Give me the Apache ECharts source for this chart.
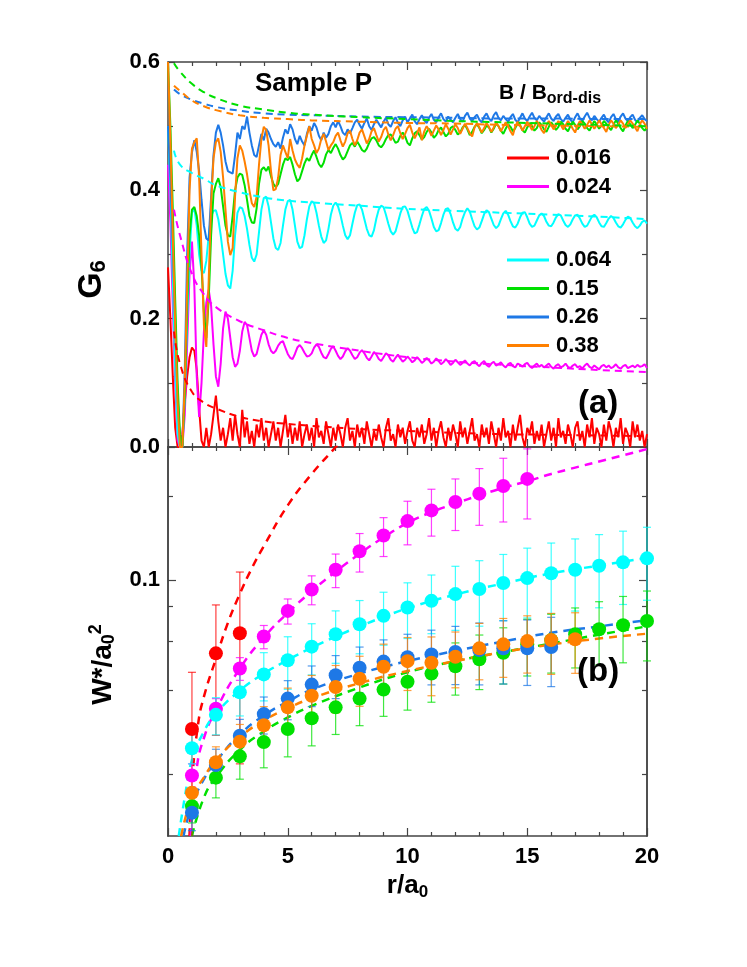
<!DOCTYPE html>
<html><head><meta charset="utf-8">
<script src="https://cdn.jsdelivr.net/npm/echarts@6/dist/echarts.min.js"></script>
<style>html,body{margin:0;padding:0;background:#fff}#c{width:747px;height:967px}</style>
</head><body><div id="c"></div><script>
const FONT = '"Liberation Sans", Arial, Helvetica, sans-serif';

// ---------- panel (a): G6(r) sampled every 0.1 a0 from r = 0 to 20 ----------
const R_STEP = 0.1;
const g6Red = [
0.280,0.200,0.110,0.030,0.000,0.000,0.020,0.070,0.110,0.140,
0.155,0.150,0.120,0.060,0.010,0.000,0.030,0.000,0.020,0.050,
0.080,0.040,0.010,0.030,0.000,0.020,0.045,0.010,0.050,0.020,
0.000,0.058,0.015,0.040,0.005,0.025,0.000,0.035,0.015,0.045,
0.010,0.030,0.000,0.020,0.040,0.010,0.030,0.000,0.025,0.050,
0.015,0.035,0.005,0.030,0.010,0.040,0.000,0.020,0.035,0.010,
0.030,0.000,0.045,0.015,0.025,0.005,0.040,0.020,0.000,0.030,
0.010,0.035,0.020,0.000,0.030,0.045,0.010,0.025,0.000,0.035,
0.015,0.030,0.005,0.040,0.020,0.000,0.025,0.010,0.035,0.015,
0.000,0.030,0.045,0.010,0.020,0.000,0.035,0.015,0.030,0.005,
0.025,0.040,0.010,0.000,0.030,0.015,0.035,0.005,0.020,0.045,
0.010,0.030,0.000,0.025,0.040,0.015,0.000,0.030,0.010,0.035,
0.020,0.000,0.040,0.015,0.030,0.005,0.025,0.045,0.010,0.020,
0.000,0.035,0.015,0.030,0.005,0.040,0.020,0.000,0.030,0.010,
0.045,0.015,0.025,0.000,0.035,0.010,0.030,0.050,0.015,0.000,
0.030,0.020,0.040,0.005,0.025,0.010,0.035,0.000,0.020,0.040,
0.010,0.030,0.000,0.045,0.015,0.025,0.005,0.035,0.020,0.000,
0.030,0.040,0.010,0.025,0.000,0.035,0.015,0.045,0.005,0.030,
0.020,0.000,0.035,0.010,0.040,0.025,0.000,0.030,0.015,0.045,
0.005,0.030,0.020,0.000,0.040,0.015,0.035,0.010,0.025,0.000,
0.020];
const g6Magenta = [
0.440,0.350,0.220,0.100,0.010,0.000,0.000,0.050,0.160,0.270,
0.320,0.250,0.110,0.047,0.100,0.180,0.225,0.245,0.220,0.160,
0.110,0.094,0.130,0.185,0.211,0.200,0.170,0.140,0.125,0.130,
0.150,0.180,0.195,0.190,0.170,0.150,0.141,0.145,0.160,0.175,
0.182,0.175,0.160,0.150,0.146,0.150,0.158,0.163,0.165,0.155,
0.145,0.139,0.137,0.145,0.155,0.159,0.154,0.147,0.141,0.142,
0.146,0.155,0.160,0.156,0.147,0.140,0.138,0.145,0.153,0.157,
0.150,0.142,0.137,0.141,0.149,0.154,0.150,0.143,0.137,0.140,
0.147,0.151,0.146,0.139,0.135,0.141,0.148,0.144,0.137,0.134,
0.140,0.146,0.143,0.136,0.133,0.139,0.144,0.138,0.133,0.136,
0.141,0.137,0.132,0.135,0.140,0.136,0.131,0.134,0.139,0.135,
0.130,0.133,0.138,0.134,0.129,0.132,0.137,0.133,0.128,0.131,
0.136,0.132,0.128,0.131,0.135,0.130,0.127,0.132,0.134,0.129,
0.126,0.131,0.134,0.128,0.125,0.130,0.133,0.127,0.129,0.132,
0.127,0.124,0.129,0.131,0.126,0.124,0.130,0.128,0.125,0.129,
0.131,0.126,0.123,0.127,0.130,0.125,0.128,0.124,0.127,0.130,
0.125,0.122,0.127,0.129,0.124,0.126,0.130,0.125,0.123,0.127,
0.129,0.124,0.126,0.122,0.127,0.130,0.125,0.123,0.127,0.124,
0.121,0.126,0.128,0.124,0.127,0.123,0.125,0.129,0.124,0.122,
0.126,0.128,0.123,0.125,0.127,0.124,0.128,0.125,0.126,0.129,
0.123];
const g6Cyan = [
0.500,0.400,0.260,0.120,0.020,0.000,0.000,0.080,0.200,0.300,
0.365,0.372,0.345,0.300,0.275,0.271,0.290,0.330,0.360,0.368,
0.369,0.355,0.330,0.300,0.270,0.252,0.247,0.275,0.330,0.365,
0.374,0.372,0.360,0.340,0.315,0.295,0.289,0.300,0.335,0.370,
0.388,0.390,0.375,0.350,0.325,0.310,0.307,0.318,0.345,0.370,
0.383,0.385,0.370,0.345,0.320,0.310,0.312,0.330,0.355,0.375,
0.383,0.380,0.365,0.345,0.328,0.318,0.322,0.340,0.362,0.376,
0.381,0.375,0.362,0.345,0.330,0.324,0.330,0.348,0.365,0.377,
0.378,0.370,0.355,0.340,0.330,0.328,0.338,0.356,0.370,0.376,
0.374,0.362,0.348,0.336,0.331,0.336,0.350,0.364,0.374,0.375,
0.368,0.355,0.342,0.333,0.335,0.347,0.360,0.371,0.374,0.368,
0.356,0.343,0.336,0.338,0.349,0.362,0.371,0.372,0.363,0.350,
0.340,0.337,0.343,0.356,0.366,0.372,0.367,0.355,0.344,0.339,
0.342,0.352,0.363,0.369,0.366,0.356,0.346,0.341,0.345,0.355,
0.364,0.368,0.362,0.352,0.344,0.342,0.348,0.358,0.365,0.366,
0.358,0.348,0.343,0.345,0.353,0.361,0.364,0.360,0.351,0.345,
0.344,0.350,0.358,0.363,0.361,0.353,0.346,0.343,0.347,0.355,
0.361,0.362,0.356,0.348,0.343,0.345,0.352,0.359,0.362,0.358,
0.350,0.344,0.343,0.349,0.356,0.360,0.357,0.350,0.344,0.342,
0.347,0.354,0.359,0.357,0.350,0.344,0.341,0.345,0.351,0.353,
0.348];
const g6Green = [
0.600,0.500,0.370,0.230,0.100,0.020,0.000,0.080,0.220,0.330,
0.370,0.374,0.360,0.330,0.280,0.210,0.170,0.230,0.330,0.395,
0.410,0.419,0.405,0.375,0.345,0.330,0.328,0.360,0.400,0.420,
0.426,0.424,0.408,0.385,0.360,0.350,0.349,0.372,0.410,0.432,
0.436,0.430,0.437,0.422,0.410,0.405,0.410,0.425,0.440,0.450,
0.447,0.452,0.440,0.425,0.414,0.418,0.430,0.442,0.450,0.446,
0.455,0.462,0.452,0.441,0.436,0.443,0.456,0.463,0.458,0.466,
0.472,0.465,0.455,0.448,0.452,0.461,0.470,0.474,0.468,0.476,
0.470,0.463,0.460,0.465,0.474,0.481,0.483,0.478,0.470,0.467,
0.472,0.480,0.486,0.487,0.481,0.474,0.476,0.485,0.490,0.484,
0.474,0.470,0.481,0.489,0.492,0.486,0.479,0.483,0.491,0.496,
0.490,0.482,0.486,0.494,0.498,0.491,0.484,0.488,0.497,0.500,
0.494,0.487,0.490,0.498,0.502,0.495,0.486,0.491,0.499,0.503,
0.497,0.489,0.494,0.501,0.498,0.490,0.496,0.504,0.500,0.493,
0.488,0.496,0.503,0.499,0.492,0.497,0.505,0.501,0.494,0.490,
0.498,0.505,0.500,0.493,0.497,0.506,0.502,0.495,0.491,0.499,
0.506,0.501,0.494,0.499,0.507,0.503,0.496,0.492,0.500,0.507,
0.502,0.495,0.500,0.508,0.504,0.497,0.493,0.501,0.508,0.503,
0.496,0.501,0.508,0.504,0.498,0.494,0.502,0.509,0.504,0.497,
0.492,0.501,0.508,0.503,0.497,0.502,0.509,0.504,0.497,0.493,
0.498];
const g6Blue = [
0.500,0.420,0.310,0.190,0.080,0.010,0.000,0.120,0.300,0.420,
0.459,0.478,0.460,0.430,0.385,0.345,0.325,0.322,0.390,0.455,
0.490,0.502,0.490,0.470,0.445,0.430,0.428,0.426,0.455,0.490,
0.480,0.500,0.495,0.515,0.490,0.470,0.455,0.452,0.470,0.488,
0.478,0.496,0.490,0.480,0.472,0.468,0.475,0.465,0.482,0.495,
0.488,0.503,0.495,0.480,0.472,0.485,0.476,0.470,0.488,0.500,
0.493,0.505,0.498,0.485,0.478,0.490,0.482,0.488,0.500,0.506,
0.498,0.508,0.500,0.490,0.486,0.495,0.489,0.497,0.506,0.510,
0.502,0.496,0.505,0.512,0.500,0.494,0.503,0.510,0.504,0.498,
0.507,0.513,0.503,0.499,0.508,0.514,0.505,0.500,0.509,0.515,
0.506,0.512,0.518,0.508,0.503,0.511,0.517,0.509,0.505,0.513,
0.519,0.510,0.506,0.514,0.520,0.511,0.507,0.515,0.510,0.506,
0.513,0.519,0.511,0.507,0.516,0.521,0.512,0.508,0.514,0.518,
0.510,0.506,0.515,0.520,0.512,0.508,0.517,0.522,0.513,0.509,
0.516,0.511,0.507,0.514,0.519,0.510,0.506,0.513,0.520,0.512,
0.508,0.515,0.521,0.513,0.509,0.516,0.511,0.507,0.514,0.520,
0.512,0.508,0.515,0.519,0.511,0.507,0.513,0.518,0.510,0.506,
0.514,0.520,0.512,0.508,0.515,0.521,0.513,0.509,0.516,0.511,
0.507,0.513,0.518,0.510,0.506,0.514,0.519,0.511,0.507,0.515,
0.520,0.512,0.508,0.514,0.518,0.510,0.506,0.513,0.517,0.511,
0.508];
const g6Orange = [
0.600,0.480,0.330,0.190,0.070,0.000,0.000,0.100,0.250,0.400,
0.465,0.475,0.481,0.420,0.300,0.190,0.156,0.260,0.380,0.450,
0.475,0.481,0.460,0.420,0.370,0.320,0.299,0.310,0.390,0.450,
0.470,0.462,0.445,0.425,0.400,0.380,0.374,0.390,0.440,0.480,
0.499,0.494,0.470,0.430,0.400,0.402,0.420,0.455,0.470,0.460,
0.450,0.480,0.462,0.448,0.440,0.435,0.450,0.470,0.485,0.500,
0.480,0.470,0.458,0.465,0.480,0.488,0.476,0.463,0.470,0.475,
0.485,0.490,0.478,0.468,0.476,0.489,0.493,0.480,0.470,0.478,
0.490,0.495,0.484,0.473,0.480,0.492,0.497,0.486,0.476,0.483,
0.494,0.499,0.487,0.478,0.486,0.496,0.500,0.489,0.480,0.488,
0.497,0.502,0.490,0.481,0.489,0.498,0.478,0.492,0.500,0.494,
0.485,0.493,0.501,0.495,0.486,0.494,0.503,0.496,0.487,0.495,
0.503,0.497,0.488,0.496,0.504,0.497,0.489,0.484,0.498,0.505,
0.498,0.490,0.497,0.505,0.499,0.491,0.498,0.506,0.500,0.492,
0.499,0.506,0.500,0.492,0.486,0.500,0.507,0.501,0.493,0.500,
0.507,0.501,0.494,0.500,0.508,0.502,0.494,0.489,0.501,0.508,
0.502,0.495,0.501,0.508,0.502,0.495,0.501,0.508,0.503,0.496,
0.490,0.501,0.508,0.503,0.496,0.502,0.509,0.503,0.496,0.502,
0.509,0.503,0.497,0.491,0.502,0.509,0.504,0.497,0.502,0.509,
0.504,0.497,0.503,0.509,0.504,0.498,0.492,0.503,0.509,0.504,
0.496];

// dashed fits in panel (a)
const fitR      = [0.25,0.5,1,1.5,2,3,4,5,6,8,10,12,14,16,18,20];
const fitRed    = [0.18,0.13,0.086,0.069,0.060,0.047,0.040,0.036,0.033,0.028,0.025,0.022,0.020,0.019,0.018,0.017];
const fitMagenta= [0.37,0.33,0.27,0.238,0.218,0.196,0.182,0.170,0.162,0.150,0.140,0.133,0.128,0.124,0.120,0.117];
const fitCyan   = [0.462,0.440,0.427,0.418,0.408,0.397,0.389,0.384,0.381,0.376,0.371,0.368,0.365,0.362,0.359,0.355];
const fitGreen  = [0.598,0.585,0.566,0.553,0.544,0.532,0.526,0.521,0.518,0.514,0.511,0.508,0.506,0.504,0.502,0.500];
const fitBlue   = [0.557,0.550,0.541,0.535,0.530,0.524,0.520,0.518,0.517,0.515,0.514,0.513,0.512,0.512,0.511,0.511];
const fitOrange = [0.563,0.555,0.540,0.531,0.525,0.517,0.513,0.511,0.509,0.507,0.505,0.504,0.502,0.501,0.500,0.499];

// ---------- panel (b): W*/a0^2 with error bars ----------
const wRRed = [1,2,3];
const wRed = [0.0291,0.0544,0.0642];
const wRedErr = [0.0174,0.0268,0.0424];
const wRMagenta = [1,2,3,4,5,6,7,8,9,10,11,12,13,14,15];
const wMagenta = [0.0198,0.0344,0.0480,0.0625,0.0773,0.0923,0.1087,0.1266,0.1442,0.1625,0.1775,0.1903,0.2039,0.2173,0.2304];
const wMagentaErr = [0.002,0.003,0.0045,0.006,0.008,0.011,0.015,0.020,0.023,0.029,0.034,0.040,0.047,0.056,0.065];
const wRCyan = [1,2,3,4,5,6,7,8,9,10,11,12,13,14,15,16,17,18,19,20];
const wCyan = [0.0248,0.0327,0.0394,0.0457,0.0514,0.0575,0.0637,0.0692,0.0742,0.0795,0.0840,0.0888,0.0926,0.0973,0.1014,0.1055,0.1087,0.1123,0.1155,0.1194];
const wCyanErr = [0.003,0.005,0.007,0.009,0.011,0.012,0.0136,0.015,0.016,0.018,0.020,0.023,0.0245,0.026,0.0285,0.030,0.0315,0.033,0.034,0.035];
const wRGreen = [1,2,3,4,5,6,7,8,9,10,11,12,13,14,15,16,17,18,19,20];
const wGreen = [0.01537,0.01945,0.0232,0.0261,0.0291,0.0318,0.0348,0.0374,0.0403,0.0430,0.0460,0.0489,0.0518,0.0547,0.0586,0.0607,0.0637,0.0664,0.0687,0.0711];
const wGreenErr = [0.002,0.003,0.004,0.005,0.006,0.0065,0.007,0.0075,0.008,0.009,0.0097,0.0104,0.0115,0.0125,0.0135,0.0145,0.0155,0.017,0.0184,0.020];
const wRBlue = [1,2,3,4,5,6,7,8,9,10,11,12,13,14,15,16];
const wBlue = [0.01454,0.0216,0.0275,0.0329,0.0374,0.0420,0.0454,0.0483,0.0508,0.0527,0.0539,0.0550,0.0559,0.0567,0.0567,0.0573];
const wBlueErr = [0.002,0.003,0.004,0.005,0.006,0.007,0.008,0.009,0.010,0.011,0.012,0.013,0.014,0.0145,0.015,0.016];
const wROrange = [1,2,3,4,5,6,7,8,9,10,11,12,13,14,15,16,17];
const wOrange = [0.01717,0.0221,0.0262,0.0300,0.0348,0.0383,0.0412,0.0441,0.0487,0.0510,0.0503,0.0529,0.0567,0.0586,0.0602,0.0607,0.0611];
const wOrangeErr = [0.002,0.003,0.004,0.005,0.006,0.007,0.008,0.009,0.010,0.011,0.012,0.012,0.013,0.014,0.014,0.015,0.015];

// dashed fits in panel (b)
const wFitRRed = [0.9,1,1.25,1.5,2,2.5,3,3.5,4,5,6,7,7.4];
const wFitRed  = [0.012,0.0185,0.030,0.038,0.052,0.070,0.089,0.110,0.132,0.185,0.240,0.300,0.330];
const wFitRMagenta = [0.95,1.2,1.5,2,3,4,5,6,7,8,9,10,11,12,13,14,15,16,17,18,19,20];
const wFitMagenta  = [0.012,0.021,0.027,0.034,0.048,0.062,0.076,0.091,0.107,0.124,0.142,0.160,0.175,0.188,0.201,0.214,0.226,0.240,0.253,0.266,0.280,0.295];
const wFitRCyan = [0.45,0.7,1,1.5,2,3,4,5,6,7,8,9,10,12,14,16,18,20];
const wFitCyan  = [0.012,0.0165,0.0225,0.0285,0.033,0.040,0.046,0.0515,0.057,0.0625,0.068,0.0735,0.079,0.0885,0.097,0.1055,0.1125,0.120];
const wFitRGreen = [1.0,1.5,2,3,4,5,6,8,10,12,14,16,18,20];
const wFitGreen  = [0.012,0.0165,0.0195,0.0245,0.0285,0.032,0.0352,0.041,0.0465,0.051,0.055,0.059,0.0635,0.068];
const wFitRBlue = [0.65,1,1.5,2,3,4,5,6,8,10,12,14,16,18,20];
const wFitBlue  = [0.012,0.0155,0.0192,0.0222,0.0278,0.0325,0.0365,0.0403,0.046,0.051,0.0555,0.060,0.0645,0.068,0.0715];
const wFitROrange = [0.55,1,1.5,2,3,4,5,6,8,10,12,14,16,18,20];
const wFitOrange  = [0.012,0.0165,0.0195,0.0225,0.0272,0.0312,0.0345,0.0375,0.0425,0.047,0.051,0.055,0.0585,0.0615,0.064];

// axis ticks / labels
const g6Ticks = [0, 0.6];          // min / max of G6 axis (labels every 0.2)
const wMinorTicks = [0.02,0.04,0.06,0.08,0.2];
const wMajorTicks = [0.1];
const W_MIN = 0.012, W_MAX = 0.3;

const legendNamesA = ['0.016','0.024'];
const legendNamesB = ['0.064','0.15','0.26','0.38'];

// ---------- styling ----------
const C = {red:'#ff0000', magenta:'#ff00ff', cyan:'#00ffff', green:'#00e000', blue:'#1e78e6', orange:'#ff8000'};
const AX = '#444';
const lbl = {fontFamily:FONT, fontWeight:'bold', fontSize:22, color:'#000'};

function gridData(vals){ return vals.map((v,i)=>[+(i*R_STEP).toFixed(2), v]); }
function pairs(xs, ys){ return xs.map((x,i)=>[x, ys[i]]); }
function triples(xs, ys, es){ return xs.map((x,i)=>[x, ys[i], es[i]]); }

function xAx(grid, pos, showLabel, extra){
  return Object.assign({type:'value', gridIndex:grid, position:pos, min:0, max:20, interval:5,
    axisLine:{show:true, onZero:false, lineStyle:{color:AX, width:1.5}},
    axisTick:{show:true, inside:true, length:8, lineStyle:{color:AX, width:1.2}},
    minorTick:{show:true, splitNumber:5, length:4, lineStyle:{color:AX, width:1.2}},
    axisLabel:Object.assign({show:showLabel, margin:10}, lbl),
    splitLine:{show:false}, minorSplitLine:{show:false}}, extra||{});
}
function gAx(pos, showLabel, extra){
  return Object.assign({type:'value', gridIndex:0, position:pos, min:g6Ticks[0], max:g6Ticks[1], interval:0.2,
    axisLine:{show:true, onZero:false, lineStyle:{color:AX, width:1.5}},
    axisTick:{show:true, inside:true, length:7, lineStyle:{color:AX, width:1.2}},
    minorTick:{show:true, splitNumber:2, length:5, lineStyle:{color:AX, width:1.2}},
    axisLabel:Object.assign({show:showLabel, margin:8, formatter:v=>v.toFixed(1)}, lbl),
    splitLine:{show:false}, minorSplitLine:{show:false}}, extra||{});
}
const LMIN = Math.log10(W_MIN), LMAX = Math.log10(W_MAX);
function wDecor(pos, ticks, len, showLabel, extra){
  return Object.assign({type:'value', gridIndex:1, position:pos, min:LMIN, max:LMAX,
    axisLine:{show:true, onZero:false, lineStyle:{color:AX, width:1.5}},
    axisTick:{show:true, inside:true, length:len, customValues:ticks.map(Math.log10), lineStyle:{color:AX, width:1.2}},
    axisLabel:Object.assign({show:showLabel, margin:8, customValues:ticks.map(Math.log10),
      formatter:v=>String(+Math.pow(10,v).toPrecision(2))}, lbl),
    splitLine:{show:false}}, extra||{});
}

const series = [];
function solid(name, vals, color){
  series.push({name, type:'line', xAxisIndex:0, yAxisIndex:0, data:gridData(vals), symbol:'none',
    lineStyle:{color, width:2}, itemStyle:{color}, clip:true, z:2});
}
function dashedA(vals, color){
  series.push({type:'line', xAxisIndex:0, yAxisIndex:0, data:pairs(fitR, vals), symbol:'none', smooth:true,
    lineStyle:{color, width:2, type:[7,5]}, clip:true, z:3, silent:true});
}
function dashedB(xs, ys, color){
  series.push({type:'line', xAxisIndex:2, yAxisIndex:2, data:pairs(xs, ys), symbol:'none', smooth:true,
    lineStyle:{color, width:2.5, type:[8,6]}, clip:true, z:2, silent:true});
}
function errBars(xs, ys, es, color){
  series.push({type:'custom', xAxisIndex:2, yAxisIndex:2, data:triples(xs, ys, es), z:3, silent:true,
    encode:{x:0, y:1},
    renderItem:function(params, api){
      const x = api.value(0), y = api.value(1), e = api.value(2);
      const t = api.coord([x, y + e]), b = api.coord([x, y - e]);
      const cs = params.coordSys;
      const top = Math.max(cs.y, t[1]), bot = Math.min(cs.y + cs.height, b[1]);
      const st = {stroke:color, lineWidth:1.2, opacity:0.75};
      const ch = [{type:'line', shape:{x1:t[0], y1:top, x2:t[0], y2:bot}, style:st}];
      if (t[1] >= cs.y) ch.push({type:'line', shape:{x1:t[0]-4, y1:t[1], x2:t[0]+4, y2:t[1]}, style:st});
      if (b[1] <= cs.y + cs.height) ch.push({type:'line', shape:{x1:b[0]-4, y1:b[1], x2:b[0]+4, y2:b[1]}, style:st});
      return {type:'group', children:ch};
    }});
}
function points(name, xs, ys, color){
  series.push({name, type:'scatter', xAxisIndex:2, yAxisIndex:2, data:pairs(xs, ys), symbol:'circle', symbolSize:14,
    itemStyle:{color, opacity:1}, z:4, silent:true});
}

// panel (a)
solid('0.016', g6Red, C.red);
solid('0.024', g6Magenta, C.magenta);
solid('0.064', g6Cyan, C.cyan);
solid('0.26', g6Blue, C.blue);
solid('0.15', g6Green, C.green);
solid('0.38', g6Orange, C.orange);
dashedA(fitRed, C.red);
dashedA(fitMagenta, C.magenta);
dashedA(fitCyan, C.cyan);
dashedA(fitBlue, C.blue);
dashedA(fitOrange, C.orange);
dashedA(fitGreen, C.green);

// panel (b)
dashedB(wFitRRed, wFitRed, C.red);
dashedB(wFitRMagenta, wFitMagenta, C.magenta);
dashedB(wFitRCyan, wFitCyan, C.cyan);
dashedB(wFitRGreen, wFitGreen, C.green);
dashedB(wFitRBlue, wFitBlue, C.blue);
dashedB(wFitROrange, wFitOrange, C.orange);
errBars(wRRed, wRed, wRedErr, C.red);
errBars(wRMagenta, wMagenta, wMagentaErr, C.magenta);
errBars(wRCyan, wCyan, wCyanErr, C.cyan);
errBars(wRGreen, wGreen, wGreenErr, C.green);
errBars(wRBlue, wBlue, wBlueErr, C.blue);
errBars(wROrange, wOrange, wOrangeErr, C.orange);
points('W 0.016', wRRed, wRed, C.red);
points('W 0.024', wRMagenta, wMagenta, C.magenta);
points('W 0.064', wRCyan, wCyan, C.cyan);
points('W 0.15', wRGreen, wGreen, C.green);
points('W 0.26', wRBlue, wBlue, C.blue);
points('W 0.38', wROrange, wOrange, C.orange);

const legendCommon = {orient:'vertical', left:507, itemWidth:42, itemHeight:3, itemGap:6.5, padding:0,
  icon:'rect', selectedMode:false,
  textStyle:{fontFamily:FONT, fontWeight:'bold', fontSize:22, color:'#000', lineHeight:22, padding:[0,0,0,2]}};

const option = {
  animation:false,
  backgroundColor:'#fff',
  grid:[
    {left:168, top:62, width:479, height:385, containLabel:false},
    {left:168, top:447, width:479, height:389, containLabel:false}
  ],
  xAxis:[
    xAx(0,'bottom',false),
    xAx(0,'top',false),
    xAx(1,'bottom',true,{name:'{m|r/a}{s|0}', nameLocation:'middle', nameGap:34,
      nameTextStyle:{rich:{m:{fontFamily:FONT, fontWeight:'bold', fontSize:26, color:'#000'},
        s:{fontFamily:FONT, fontWeight:'bold', fontSize:17, color:'#000', padding:[14,0,0,0]}}}}),
    xAx(1,'top',false)
  ],
  yAxis:[
    gAx('left', true, {name:'{m|G}{s|6}', nameLocation:'middle', nameRotate:90, nameGap:58,
      nameTextStyle:{padding:[0,50,0,0], rich:{m:{fontFamily:FONT, fontWeight:'bold', fontSize:34, color:'#000'},
        s:{fontFamily:FONT, fontWeight:'bold', fontSize:22, color:'#000', padding:[14,0,0,0]}}}}),
    gAx('right', false),
    {type:'log', gridIndex:1, min:W_MIN, max:W_MAX, show:false, position:'left'},
    wDecor('left', wMinorTicks, 5, false),
    wDecor('left', wMajorTicks, 8, true, {name:'{m|W*/a}{s|0}{p|2}', nameLocation:'middle', nameRotate:90, nameGap:40,
      nameTextStyle:{padding:[0,46,0,0], rich:{m:{fontFamily:FONT, fontWeight:'bold', fontSize:28, color:'#000'},
        s:{fontFamily:FONT, fontWeight:'bold', fontSize:18, color:'#000', padding:[12,0,0,0]},
        p:{fontFamily:FONT, fontWeight:'bold', fontSize:18, color:'#000', padding:[0,0,14,0]}}}}),
    wDecor('right', wMinorTicks, 5, false),
    wDecor('right', wMajorTicks, 8, false)
  ],
  legend:[
    Object.assign({top:147, data:legendNamesA}, legendCommon),
    Object.assign({top:249, data:legendNamesB}, legendCommon)
  ],
  title:[
    {text:'Sample P', left:255, top:71, padding:0,
      textStyle:{fontFamily:FONT, fontWeight:'bold', fontSize:26, color:'#000'}},
    {text:'{a|B / B}{b|ord-dis}', left:499, top:79, padding:0,
      textStyle:{rich:{a:{fontFamily:FONT, fontWeight:'bold', fontSize:21, color:'#000'},
        b:{fontFamily:FONT, fontWeight:'bold', fontSize:16, color:'#000', padding:[12,0,0,0]}}}},
    {text:'(a)', left:578, top:387, padding:0,
      textStyle:{fontFamily:FONT, fontWeight:'bold', fontSize:33, color:'#000'}},
    {text:'(b)', left:577, top:655, padding:0,
      textStyle:{fontFamily:FONT, fontWeight:'bold', fontSize:33, color:'#000'}}
  ],
  series
};

const chart = echarts.init(document.getElementById('c'), null, {renderer:'canvas', width:747, height:967});
chart.setOption(option);
</script></body></html>
